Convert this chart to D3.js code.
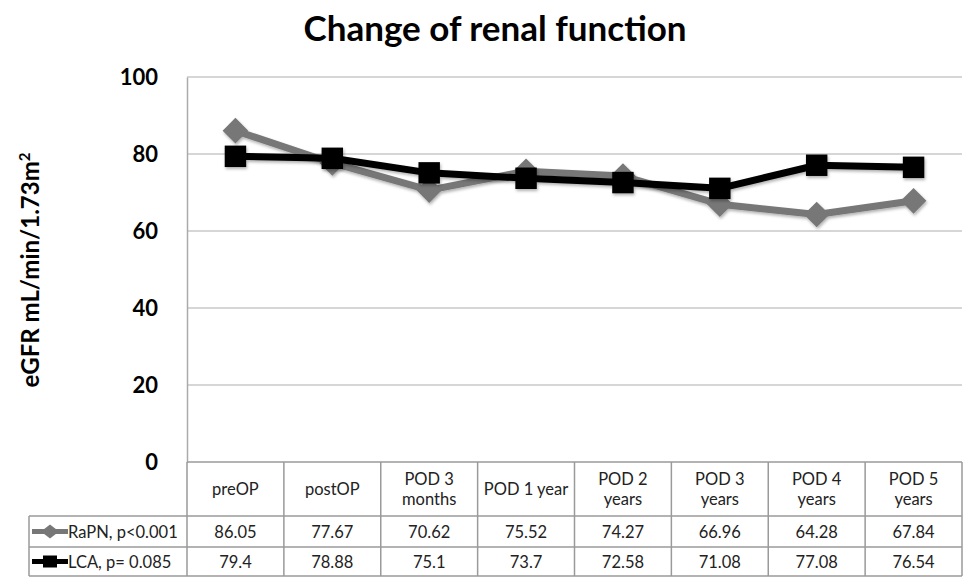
<!DOCTYPE html>
<html>
<head>
<meta charset="utf-8">
<script src="https://cdn.jsdelivr.net/npm/d3@7"></script>
<style>
  body { margin: 0; background: #fff; }
  text { font-family: Lato, "Open Sans", sans-serif; }
</style>
</head>
<body>
<svg id="chart"></svg>
<script>
(function (d3) {
  'use strict'
  const W = 975
  const H = 577

  // data
  const categories = ['preOP', 'postOP', 'POD 3 months', 'POD 1 year', 'POD 2 years', 'POD 3 years', 'POD 4 years', 'POD 5 years']
  const catLines = [['preOP'], ['postOP'], ['POD 3', 'months'], ['POD 1 year'], ['POD 2', 'years'], ['POD 3', 'years'], ['POD 4', 'years'], ['POD 5', 'years']]
  const rapn = [86.05, 77.67, 70.62, 75.52, 74.27, 66.96, 64.28, 67.84]
  const lca = [79.4, 78.88, 75.1, 73.7, 72.58, 71.08, 77.08, 76.54]
  const rapnLabels = ['86.05', '77.67', '70.62', '75.52', '74.27', '66.96', '64.28', '67.84']
  const lcaLabels = ['79.4', '78.88', '75.1', '73.7', '72.58', '71.08', '77.08', '76.54']
  const yTicks = [0, 20, 40, 60, 80, 100]

  const series = [
    { name: 'RaPN, p<0.001', values: rapn, labels: rapnLabels, color: '#777777', marker: 'diamond' },
    { name: 'LCA, p= 0.085', values: lca, labels: lcaLabels, color: '#000000', marker: 'square' }
  ]

  // layout
  const plot = { left: 187, right: 962, top: 77, bottom: 462 }
  const table = { left: 29, headBottom: 516, rows: [516, 547, 576] }

  const svg = d3.select('#chart').attr('width', W).attr('height', H)

  const x = d3.scaleBand().domain(categories).range([plot.left, plot.right])
  const y = d3.scaleLinear().domain([0, 100]).range([plot.bottom, plot.top])

  // title
  svg.append('text')
    .attr('x', 495).attr('y', 41)
    .attr('text-anchor', 'middle')
    .style('font-size', '35px').style('font-weight', 'bold')
    .text('Change of renal function')

  // gridlines
  svg.append('g').selectAll('line').data(yTicks.filter(d => d > 0)).enter().append('line')
    .attr('x1', plot.left).attr('x2', plot.right)
    .attr('y1', d => y(d)).attr('y2', d => y(d))
    .attr('stroke', '#c8c8c8').attr('stroke-width', 1.5)

  // y axis
  const yAxis = svg.append('g')
    .attr('transform', `translate(${plot.left},0)`)
    .call(d3.axisLeft(y).tickValues(yTicks).tickSize(0).tickPadding(29))
  yAxis.select('.domain').attr('stroke', '#aaa').attr('stroke-width', 1.5)
  yAxis.selectAll('text')
    .style('font-size', '22px').style('font-weight', 'bold')
    .style('font-family', 'Lato, sans-serif').attr('fill', '#000')

  svg.append('text')
    .attr('transform', 'translate(39,270) rotate(-90)')
    .attr('text-anchor', 'middle')
    .style('font-size', '24px').style('font-weight', 'bold')
    .text('eGFR mL/min/1.73m')
    .append('tspan').attr('dy', -9).style('font-size', '15px').text('2')

  // table
  const tg = svg.append('g')
  const lineColor = '#9a9a9a'
  tg.append('line').attr('x1', plot.left).attr('x2', plot.right)
    .attr('y1', plot.bottom).attr('y2', plot.bottom).attr('stroke', lineColor).attr('stroke-width', 1.5)
  table.rows.forEach(r => {
    tg.append('line').attr('x1', table.left).attr('x2', plot.right)
      .attr('y1', r).attr('y2', r).attr('stroke', lineColor).attr('stroke-width', 1.5)
  })
  const bounds = categories.map(c => x(c)).concat([plot.right])
  tg.selectAll('.vline').data(bounds).enter().append('line')
    .attr('x1', d => d).attr('x2', d => d)
    .attr('y1', plot.bottom).attr('y2', table.rows[2])
    .attr('stroke', lineColor).attr('stroke-width', 1.5)
  tg.append('line').attr('x1', table.left).attr('x2', table.left)
    .attr('y1', table.rows[0]).attr('y2', table.rows[2])
    .attr('stroke', lineColor).attr('stroke-width', 1.5)

  // header labels
  categories.forEach((c, i) => {
    const lines = catLines[i]
    const cy = (plot.bottom + table.headBottom) / 2
    const t = tg.append('text')
      .attr('x', x(c) + x.bandwidth() / 2)
      .attr('text-anchor', 'middle')
      .style('font-size', '16.5px').attr('fill', '#222')
    lines.forEach((l, j) => {
      t.append('tspan')
        .attr('x', x(c) + x.bandwidth() / 2)
        .attr('y', cy + 6 + (j - (lines.length - 1) / 2) * 20)
        .text(l)
    })
  })

  // value rows
  series.forEach((s, si) => {
    const r0 = table.rows[si]
    const r1 = table.rows[si + 1]
    const cy = (r0 + r1) / 2 + 6
    tg.selectAll('.val' + si).data(s.labels).enter().append('text')
      .attr('x', (d, i) => x(categories[i]) + x.bandwidth() / 2)
      .attr('y', cy)
      .attr('text-anchor', 'middle')
      .style('font-size', '16.5px').attr('fill', '#222')
      .text(d => d)
    // legend key
    const ky = (r0 + r1) / 2
    tg.append('line').attr('x1', 32).attr('x2', 68).attr('y1', ky).attr('y2', ky)
      .attr('stroke', s.color).attr('stroke-width', 5)
    const km = tg.append('path')
      .attr('transform', `translate(50,${ky})`)
      .attr('fill', s.color)
    if (s.marker === 'diamond') km.attr('d', 'M0,-7L9,0L0,7L-9,0Z')
    else km.attr('d', 'M-7,-6H7V6H-7Z')
    tg.append('text').attr('x', 68).attr('y', cy)
      .style('font-size', '16.5px').attr('fill', '#222')
      .text(s.name)
  })

  // shadow filter
  const defs = svg.append('defs')
  const f = defs.append('filter').attr('id', 'shadow').attr('x', '-20%').attr('y', '-20%').attr('width', '140%').attr('height', '140%')
  f.append('feDropShadow').attr('dx', 1).attr('dy', 2).attr('stdDeviation', 1.5).attr('flood-color', '#000').attr('flood-opacity', 0.3)

  // lines + markers
  const line = d3.line().x((d, i) => x(categories[i]) + x.bandwidth() / 2).y(d => y(d))
  series.forEach(s => {
    const g = svg.append('g').attr('filter', 'url(#shadow)')
    g.append('path').datum(s.values)
      .attr('d', line).attr('fill', 'none')
      .attr('stroke', s.color).attr('stroke-width', 7).attr('stroke-linejoin', 'round')
    const sym = s.marker === 'diamond'
      ? d3.symbol().type(d3.symbolDiamond2).size(420)
      : d3.symbol().type(d3.symbolSquare).size(460)
    g.selectAll('.m').data(s.values).enter().append('path')
      .attr('transform', (d, i) => `translate(${x(categories[i]) + x.bandwidth() / 2},${y(d)})`)
      .attr('d', sym).attr('fill', s.color)
  })
}(d3))
</script>
</body>
</html>
